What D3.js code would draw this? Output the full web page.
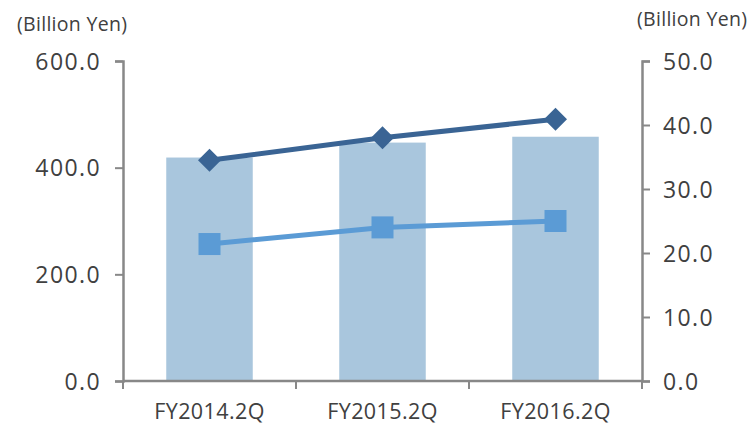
<!DOCTYPE html>
<html><head><meta charset="utf-8">
<script src="https://cdn.jsdelivr.net/npm/d3@7"></script>
<style>body{margin:0;background:#fff}svg{display:block}text{font-family:"Open Sans",sans-serif;fill:#404040}</style>
</head><body><div id="chart"></div>
<script>
const categories = ["FY2014.2Q","FY2015.2Q","FY2016.2Q"];
const barValues = [419, 447, 458];          // left axis
const darkLine = [34.5, 38.0, 40.9];        // right axis
const lightLine = [21.4, 24.0, 25.0];       // right axis
const leftTicks = [0, 200, 400, 600];
const rightTicks = [0, 10, 20, 30, 40, 50];

const W = 749, H = 425;
const m = {l:123, r:749-642, t:61, b:425-381};
const svg = d3.select("#chart").append("svg").attr("width",W).attr("height",H);

const x = d3.scaleBand().domain(categories).range([m.l, W-m.r]).paddingInner(0.5).paddingOuter(0.25);
const xb = d3.scaleBand().domain(categories).range([m.l, W-m.r]);
const yL = d3.scaleLinear().domain([0,600]).range([H-m.b, m.t]);
const yR = d3.scaleLinear().domain([0,50]).range([H-m.b, m.t]);

// bars
svg.selectAll("rect.bar").data(categories).join("rect")
  .attr("x", d=>x(d)).attr("width", x.bandwidth())
  .attr("y", (d,i)=>yL(barValues[i])).attr("height",(d,i)=>yL(0)-yL(barValues[i]))
  .attr("fill","#A9C6DD");

const axColor = "#888";
// left axis
const gl = svg.append("g").attr("transform",`translate(${m.l},0)`)
  .call(d3.axisLeft(yL).tickValues(leftTicks).tickFormat(d3.format(".1f")).tickSizeOuter(0).tickSize(8).tickPadding(14));
// right axis
const gr = svg.append("g").attr("transform",`translate(${W-m.r},0)`)
  .call(d3.axisRight(yR).tickValues(rightTicks).tickFormat(d3.format(".1f")).tickSizeOuter(0).tickSize(8).tickPadding(13));
// bottom axis
const gb = svg.append("g").attr("transform",`translate(0,${H-m.b})`)
  .call(d3.axisBottom(xb).tickSize(0).tickPadding(22));
// category boundary ticks
const bounds = categories.map(c=>xb(c)).concat([W-m.r]);
svg.selectAll("line.ct").data(bounds).join("line")
  .attr("x1",d=>d).attr("x2",d=>d).attr("y1",H-m.b).attr("y2",H-m.b+8)
  .attr("stroke",axColor).attr("stroke-width",2);

[gl,gr,gb].forEach(g=>{
  g.selectAll(".domain").attr("stroke",axColor).attr("stroke-width",2.5);
  g.selectAll(".tick line").attr("stroke",axColor).attr("stroke-width",2);
  g.selectAll("text").attr("fill","#404040").style("font-family","'Open Sans',sans-serif");
});
gl.selectAll("text").style("font-size","23px").style("letter-spacing","1.4px").attr("dy","0.36em");
gr.selectAll("text").style("font-size","23px").style("letter-spacing","1.4px").attr("dy","0.36em");
gb.selectAll("text").style("font-size","21.5px").style("letter-spacing","0.4px").attr("y",38).attr("dy","0");
gb.select(".domain").attr("d",`M${m.l},0H${W-m.r}`);

// lines
const cx = d=>xb(d)+xb.bandwidth()/2;
const line = d3.line();
svg.append("path").datum(categories.map((c,i)=>[cx(c), yR(lightLine[i])]))
  .attr("d",line).attr("fill","none").attr("stroke","#5B9BD5").attr("stroke-width",5);
svg.selectAll("rect.sq").data(categories).join("rect")
  .attr("x",d=>cx(d)-11).attr("y",(d,i)=>yR(lightLine[i])-11)
  .attr("width",22).attr("height",22).attr("fill","#5B9BD5");

svg.append("path").datum(categories.map((c,i)=>[cx(c), yR(darkLine[i])]))
  .attr("d",line).attr("fill","none").attr("stroke","#3A6494").attr("stroke-width",5);
svg.selectAll("path.dm").data(categories).join("path")
  .attr("d",(d,i)=>{const X=cx(d),Y=yR(darkLine[i]),r=11.5;return `M${X},${Y-r}L${X+r},${Y}L${X},${Y+r}L${X-r},${Y}Z`;})
  .attr("fill","#3A6494");

// unit labels
svg.append("text").attr("x",17).attr("y",31).text("(Billion Yen)").style("font-size","19.5px").style("letter-spacing","0.3px");
svg.append("text").attr("x",637).attr("y",26).text("(Billion Yen)").style("font-size","19.5px").style("letter-spacing","0.3px");
</script></body></html>
